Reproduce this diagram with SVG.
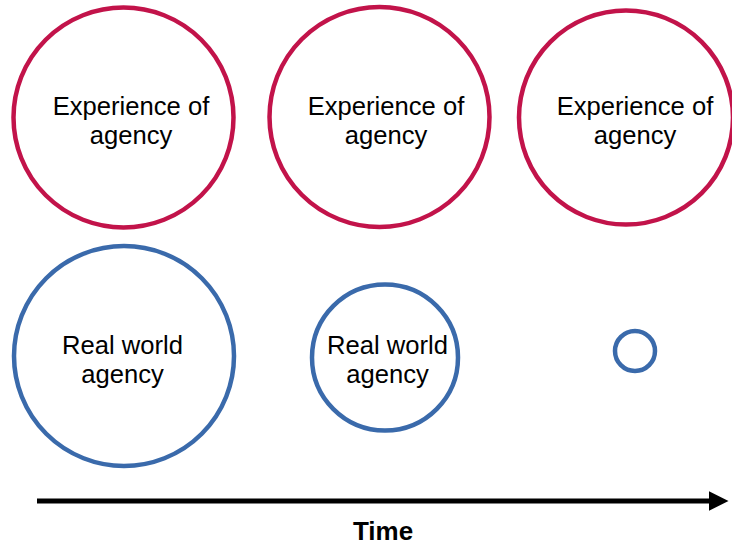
<svg xmlns="http://www.w3.org/2000/svg" width="732" height="546" viewBox="0 0 732 546">
<defs>
<style>
.red{fill:#ffffff;stroke:#c2134a;stroke-width:4.5}
.blue{fill:#ffffff;stroke:#3a6aab;stroke-width:4.5}
.lbl{font-family:"Liberation Sans",Arial,sans-serif;font-size:25.6px;fill:#000;text-anchor:middle}
.time{font-family:"Liberation Sans",Arial,sans-serif;font-size:26px;font-weight:bold;fill:#000;text-anchor:middle}
</style>
<marker id="ah" markerWidth="4" markerHeight="4" refX="0.5" refY="2" orient="auto" markerUnits="strokeWidth" viewBox="0 0 4 4">
<path d="M0,0 L4,2 L0,4 Z" fill="#000"/>
</marker>
</defs>
<rect width="732" height="546" fill="#ffffff"/>
<g id="connectors">
<line x1="37" y1="501" x2="711" y2="501" stroke="#000" stroke-width="5" marker-end="url(#ah)"/>
</g>
<g id="exp1"><circle class="red" cx="123.5" cy="117.5" r="110"/>
<text class="lbl" x="131" y="115">Experience of</text><text class="lbl" x="131" y="143.5">agency</text></g>
<g id="exp2"><circle class="red" cx="379.5" cy="117" r="110"/>
<text class="lbl" x="386" y="115">Experience of</text><text class="lbl" x="386" y="143.5">agency</text></g>
<g id="exp3"><circle class="red" cx="626" cy="117.5" r="107"/>
<text class="lbl" x="635" y="115">Experience of</text><text class="lbl" x="635" y="143.5">agency</text></g>
<g id="real1"><circle class="blue" cx="124" cy="356" r="110"/>
<text class="lbl" x="122.5" y="354">Real world</text><text class="lbl" x="122.5" y="383">agency</text></g>
<g id="real2"><circle class="blue" cx="385" cy="357.5" r="73"/>
<text class="lbl" x="387.5" y="353.5">Real world</text><text class="lbl" x="387.5" y="382.5">agency</text></g>
<g id="real3"><circle class="blue" cx="635" cy="351" r="20"/></g>
<g id="timeLabel"><text class="time" x="383" y="540">Time</text></g>
</svg>
